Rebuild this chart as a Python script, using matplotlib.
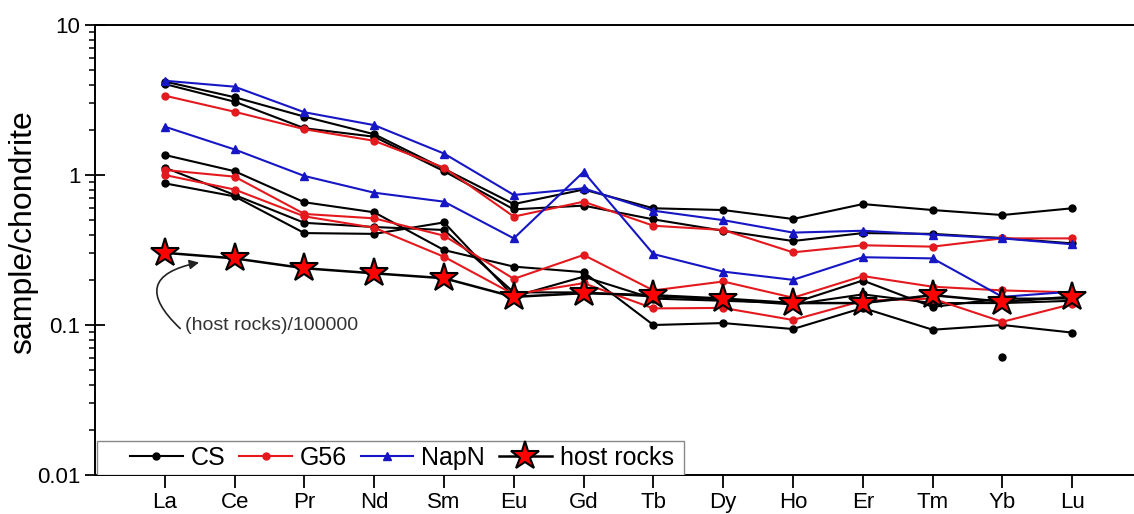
import numpy as np
import matplotlib
matplotlib.use('Agg')
import matplotlib.pyplot as plt
from matplotlib.patches import FancyArrowPatch, Rectangle
from matplotlib.ticker import LogLocator, FixedLocator, FixedFormatter, NullFormatter

plt.rcParams['font.family'] = ['Liberation Sans', 'DejaVu Sans']

elements = ['La', 'Ce', 'Pr', 'Nd', 'Sm', 'Eu', 'Gd', 'Tb', 'Dy', 'Ho', 'Er', 'Tm', 'Yb', 'Lu']

# CS samples (black)
cs_1 = [4.20, 3.30, 2.45, 1.87, 1.10, 0.64, 0.80, 0.60, 0.584, 0.509, 0.64, 0.584, 0.541, 0.60]
cs_2 = [4.04, 3.08, 2.05, 1.80, 1.06, 0.59, 0.625, 0.506, 0.425, 0.363, 0.41, 0.405, 0.38, 0.35]
cs_3 = [1.36, 1.06, 0.658, 0.564, 0.316, 0.245, 0.225, 0.10, 0.103, 0.094, 0.13, 0.093, 0.10, 0.089]
cs_4 = [1.12, 0.736, 0.48, 0.45, 0.43, 0.165, 0.165, 0.155, 0.148, 0.137, 0.16, 0.14, 0.14, 0.145]
cs_5 = [0.88, 0.72, 0.41, 0.405, 0.483, 0.155, 0.21, 0.15, 0.145, 0.14, 0.198, 0.132, 0.15, 0.15]
cs_6 = [np.nan] * 12 + [0.061, np.nan]

# G56 samples (red)
g56_1 = [3.38, 2.64, 2.02, 1.69, 1.12, 0.528, 0.664, 0.459, 0.43, 0.305, 0.34, 0.333, 0.378, 0.378]
g56_2 = [1.08, 0.975, 0.55, 0.514, 0.394, 0.203, 0.293, 0.17, 0.195, 0.152, 0.212, 0.18, 0.17, 0.165]
g56_3 = [1.00, 0.80, 0.53, 0.445, 0.285, 0.16, 0.19, 0.129, 0.13, 0.108, 0.145, 0.15, 0.105, 0.138]

# NapN samples (blue)
napn_1 = [4.25, 3.88, 2.62, 2.15, 1.39, 0.736, 0.815, 0.578, 0.50, 0.413, 0.425, 0.40, 0.378, 0.345]
napn_2 = [2.10, 1.48, 0.985, 0.762, 0.664, 0.378, 1.05, 0.297, 0.227, 0.20, 0.283, 0.278, 0.154, 0.167]

# host rocks / 100000
host = [0.303, 0.278, 0.239, 0.221, 0.205, 0.154, 0.163, 0.158, 0.15, 0.14, 0.14, 0.158, 0.143, 0.154]

red = '#e3191e'
blue = '#1616c4'

fig = plt.figure(figsize=(11.34, 5.14), dpi=100)
ax = fig.add_axes([95 / 1134, 39 / 514, 1047 / 1134, 450 / 514])
x = np.arange(len(elements))

for i, s in enumerate([cs_1, cs_2, cs_3, cs_4, cs_5, cs_6]):
    ax.plot(x, s, '-o', color='black', lw=1.5, ms=5, label='CS' if i == 0 else None)
for i, s in enumerate([g56_1, g56_2, g56_3]):
    ax.plot(x, s, '-o', color=red, lw=1.5, ms=5, label='G56' if i == 0 else None)
for i, s in enumerate([napn_1, napn_2]):
    ax.plot(x, s, '-^', color=blue, lw=1.5, ms=5.5, label='NapN' if i == 0 else None)
ax.plot(x, host, '-*', color='black', lw=1.8, ms=21, mfc='red', mec='black', mew=1.5,
        label='host rocks')

ax.set_yscale('log')
ax.set_ylim(0.01, 10)
ax.set_xlim(-1, 14)
ax.yaxis.set_major_locator(FixedLocator([0.01, 0.1, 1, 10]))
ax.yaxis.set_major_formatter(FixedFormatter(['0.01', '0.1', '1', '10']))
ax.yaxis.set_minor_locator(LogLocator(base=10, subs=np.arange(2, 10)))
ax.yaxis.set_minor_formatter(NullFormatter())
ax.set_xticks(x)
ax.set_xticklabels(elements)

ax.tick_params(axis='y', which='major', direction='inout', length=14, width=1.3, labelsize=16)
ax.tick_params(axis='y', which='minor', direction='out', length=4, width=1.1)
ax.tick_params(axis='x', which='major', direction='out', length=9, width=1.3, labelsize=16, pad=3)
for sp in ax.spines.values():
    sp.set_linewidth(1.4)
ax.set_ylabel('sample/chondrite', fontsize=23)
ax.yaxis.set_label_coords(-(95 - 38) / 1047, 0.54)

ax.text(0.29, 0.1, '(host rocks)/100000', fontsize=14, ha='left', va='center', color='#333333')
arr = FancyArrowPatch((0.25, 0.092), (0.53, 0.263), connectionstyle='arc3,rad=-1.0',
                      arrowstyle='-|>', mutation_scale=14, lw=1.2, color='#222222')
ax.add_patch(arr)

# legend box drawn separately, entries placed inside it
box = Rectangle((2 / 1047, 0.0), 587 / 1047, 34 / 450, transform=ax.transAxes,
                facecolor='white', edgecolor='#888888', lw=1.0, zorder=4)
ax.add_patch(box)
leg = ax.legend(loc='center left', bbox_to_anchor=(35 / 1047, 17 / 450), ncol=4, fontsize=18,
                frameon=False, borderaxespad=0, borderpad=0, handlelength=2.1,
                handletextpad=0.32, columnspacing=0.56)
leg.set_zorder(5)

fig.savefig('out.png', dpi=100)
